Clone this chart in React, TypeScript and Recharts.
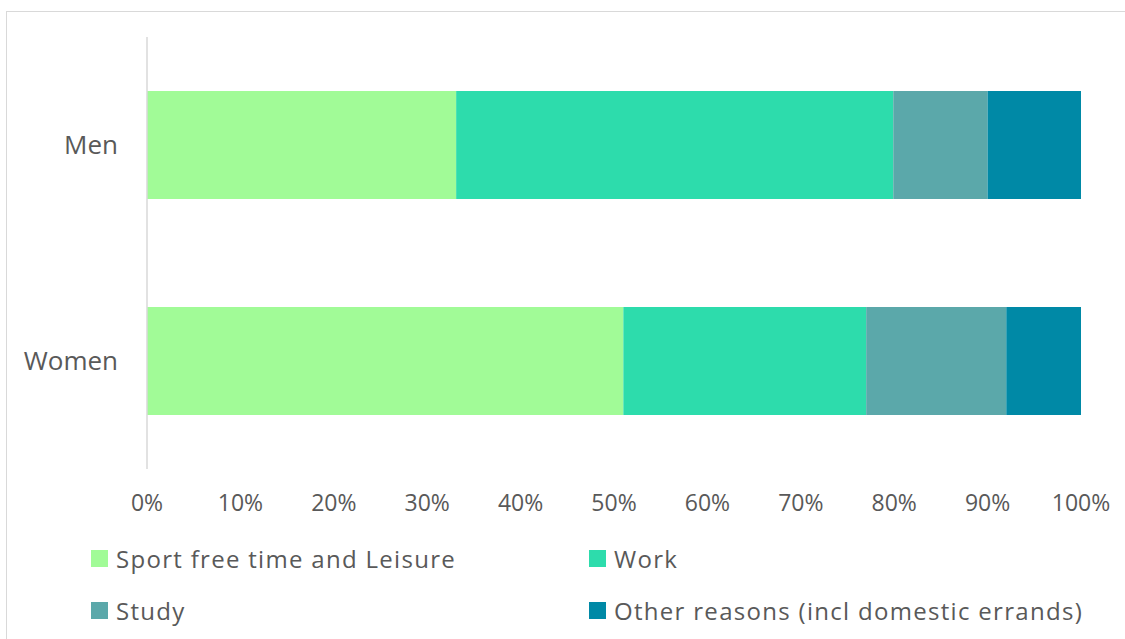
import React from 'react';
import { BarChart, Bar, XAxis, YAxis } from 'recharts';

// categories, top to bottom
const groups = ['Men', 'Women'];

// share of trips by reason (%)
const sportLeisure = [33.1, 51.0];
const work = [46.8, 26.0];
const study = [10.1, 15.0];
const otherReasons = [10.0, 8.0];

// axis ticks in percent
const xTicks = [0, 10, 20, 30, 40, 50, 60, 70, 80, 90, 100];

const series = [
  { key: 'sport', name: 'Sport free time and Leisure', color: '#a1fb97', values: sportLeisure },
  { key: 'work', name: 'Work', color: '#2ddcac', values: work },
  { key: 'study', name: 'Study', color: '#5ba8aa', values: study },
  { key: 'other', name: 'Other reasons (incl domestic errands)', color: '#0089a6', values: otherReasons },
];

const data = groups.map((g, i) => {
  const row: Record<string, string | number> = { group: g };
  series.forEach((s) => {
    row[s.key] = s.values[i];
  });
  return row;
});

const FONT = '"Open Sans", "Liberation Sans", sans-serif';
const TEXT = '#595959';

const LegendGrid: React.FC = () => (
  <div
    style={{
      position: 'absolute',
      left: 91,
      top: 538,
      width: 1030,
      fontFamily: FONT,
      fontSize: 24,
      letterSpacing: 1.3,
      color: TEXT,
    }}
  >
    {series.map((s, i) => (
      <div
        key={s.key}
        style={{
          position: 'absolute',
          left: i % 2 === 0 ? 0 : 498,
          top: Math.floor(i / 2) * 52,
          height: 40,
          display: 'flex',
          alignItems: 'center',
          whiteSpace: 'nowrap',
        }}
      >
        <span style={{ width: 17, height: 17, background: s.color, display: 'inline-block', marginRight: 8 }} />
        <span>{s.name}</span>
      </div>
    ))}
  </div>
);

export default function App() {
  return (
    <div style={{ position: 'fixed', left: 0, top: 0, width: 1125, height: 639, overflow: 'hidden', background: '#fff' }}>
      <div
        style={{
          position: 'absolute',
          left: 6,
          top: 11,
          width: 1300,
          height: 800,
          border: '1.5px solid #d9d9d9',
        }}
      />
      <div style={{ position: 'absolute', left: 0, top: 0 }}>
        <BarChart
          width={1125}
          height={639}
          data={data}
          layout="vertical"
          barCategoryGap="25%"
          margin={{ top: 37, right: 44, left: 0, bottom: 130 }}
        >
          <XAxis
            type="number"
            domain={[0, 100]}
            allowDataOverflow
            ticks={xTicks}
            tickFormatter={(v: number) => `${v}%`}
            axisLine={false}
            tickLine={false}
            tickMargin={20}
            height={40}
            interval={0}
            tick={{ fill: TEXT, fontSize: 23, fontFamily: FONT }}
          />
          <YAxis
            type="category"
            dataKey="group"
            width={147}
            axisLine={{ stroke: '#d9d9d9', strokeWidth: 1.5 }}
            tickLine={false}
            tickMargin={23}
            tick={{ fill: TEXT, fontSize: 26, fontFamily: FONT }}
          />
          {series.map((s) => (
            <Bar key={s.key} dataKey={s.key} name={s.name} stackId="a" fill={s.color} isAnimationActive={false} />
          ))}
        </BarChart>
      </div>
      <LegendGrid />
    </div>
  );
}
